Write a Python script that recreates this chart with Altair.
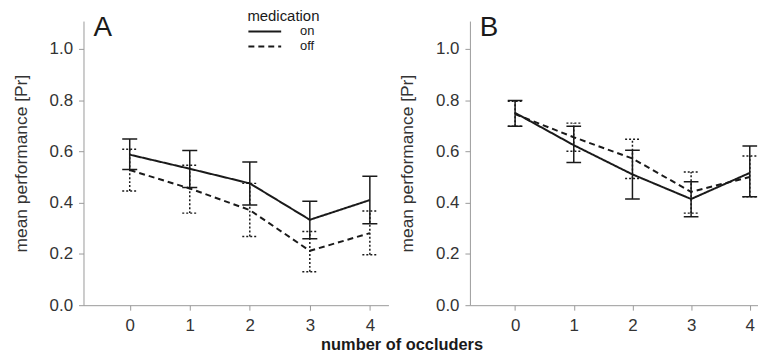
import altair as alt
import pandas as pd

occluders = [0, 1, 2, 3, 4]

a_on_mean = [0.587, 0.532, 0.475, 0.333, 0.410]
a_on_lo = [0.529, 0.459, 0.391, 0.259, 0.318]
a_on_hi = [0.648, 0.603, 0.558, 0.405, 0.503]
a_off_mean = [0.527, 0.455, 0.371, 0.212, 0.281]
a_off_lo = [0.445, 0.359, 0.268, 0.130, 0.197]
a_off_hi = [0.608, 0.546, 0.475, 0.287, 0.367]

b_on_mean = [0.750, 0.624, 0.510, 0.414, 0.516]
b_on_lo = [0.698, 0.556, 0.414, 0.345, 0.423]
b_on_hi = [0.798, 0.698, 0.604, 0.481, 0.621]
b_off_mean = [0.745, 0.655, 0.572, 0.442, 0.500]
b_off_lo = [0.698, 0.600, 0.494, 0.359, 0.423]
b_off_hi = [0.795, 0.710, 0.647, 0.519, 0.582]

rows = []
for panel, med, m, lo, hi in [
    ("A", "on", a_on_mean, a_on_lo, a_on_hi),
    ("A", "off", a_off_mean, a_off_lo, a_off_hi),
    ("B", "on", b_on_mean, b_on_lo, b_on_hi),
    ("B", "off", b_off_mean, b_off_lo, b_off_hi),
]:
    for i, x in enumerate(occluders):
        rows.append({"panel": panel, "med": med, "x": x, "mean": m[i], "lo": lo[i], "hi": hi[i]})
df = pd.DataFrame(rows)

FONT = "Liberation Sans"
INK = "#1a1a1a"
YTITLE = "mean performance [Pr]"


def xenc(field, dom):
    return alt.X(field, scale=alt.Scale(domain=dom, nice=False, zero=False),
                 axis=alt.Axis(values=occluders, format="d", title=None))


def yenc(field):
    return alt.Y(field, scale=alt.Scale(domain=[0, 1.108], nice=False),
                 axis=alt.Axis(values=[0, 0.2, 0.4, 0.6, 0.8, 1.0], format=".1f", title=YTITLE))


def panel(name, width, dom, show_legend):
    base = alt.Chart(df).transform_filter(alt.datum.panel == name)
    legend = None
    if show_legend:
        legend = alt.Legend(
            orient="none", legendX=165, legendY=-12, title="medication",
            titleFontSize=15, titleFontWeight="normal", titleColor=INK, titleFont=FONT,
            titlePadding=0, labelFontSize=13, labelColor=INK, labelFont=FONT,
            labelOffset=18, symbolType="stroke", symbolSize=1089, symbolStrokeWidth=2,
            symbolStrokeColor=INK, clipHeight=15, rowPadding=0, padding=0,
        )
    line = base.mark_line(strokeWidth=2, color=INK).encode(
        x=xenc("x:Q", dom), y=yenc("mean:Q"),
        strokeDash=alt.StrokeDash("med:N", scale=alt.Scale(domain=["on", "off"], range=[[1, 0], [6, 4]]),
                                  legend=legend),
        order="x:Q",
    )
    layers = [line]
    for med, dash in [("on", [1, 0]), ("off", [2, 2])]:
        sub = base.transform_filter(alt.datum.med == med)
        bar = sub.mark_rule(strokeWidth=1.5, color=INK, strokeDash=dash).encode(
            x=xenc("x:Q", dom), y=yenc("lo:Q"), y2="hi:Q")
        caps = sub.transform_fold(["lo", "hi"], as_=["which", "capv"]).transform_calculate(
            x0="datum.x - 0.125", x1="datum.x + 0.125"
        ).mark_rule(strokeWidth=1.5, color=INK, strokeDash=dash).encode(
            x=xenc("x0:Q", dom), x2="x1:Q", y=yenc("capv:Q"))
        layers += [bar, caps]
    label = alt.Chart(pd.DataFrame({"t": [name]})).mark_text(
        fontSize=28, font=FONT, color=INK, align="left", baseline="alphabetic"
    ).encode(x=alt.value(10), y=alt.value(15), text="t:N")
    layers.append(label)
    return alt.layer(*layers).properties(width=width, height=286)


pa = panel("A", 307, [-0.77, 4.31], True)
pb = panel("B", 290, [-0.77, 4.14], False)

chart = alt.hconcat(pa, pb, spacing=10).properties(
    padding={"left": 4, "top": 0, "right": 0, "bottom": 0},
    title=alt.TitleParams("number of occluders", orient="bottom", anchor="middle", fontSize=16.5,
                          fontWeight="bold", font=FONT, color=INK, dx=17, offset=4),
).configure_view(stroke=None).configure_axis(
    domainColor="#9a9a9a", tickColor="#9a9a9a", tickSize=5, grid=False,
    labelFont=FONT, labelFontSize=17, labelColor="#333333", labelPadding=6,
    titleFont=FONT, titleFontSize=17.5, titleFontWeight="normal", titleColor="#333333",
).configure_axisY(titlePadding=19).configure_axisX(labelPadding=7)

chart.save("out.html", embed_options={"renderer": "svg", "actions": False})
